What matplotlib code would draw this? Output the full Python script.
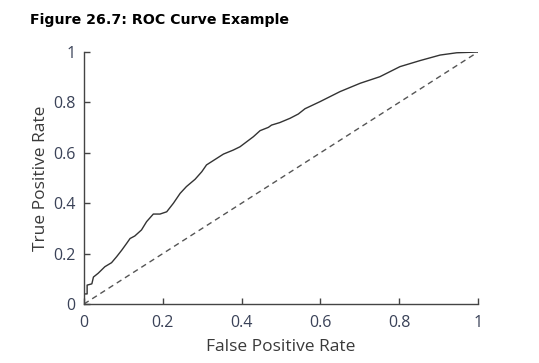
import matplotlib
matplotlib.use('Agg')
import matplotlib.pyplot as plt

# ROC curve points
fpr = [0.0, 0.0, 0.008, 0.008, 0.02, 0.024, 0.036, 0.053, 0.07, 0.083, 0.096,
       0.108, 0.117, 0.129, 0.146, 0.159, 0.176, 0.193, 0.21, 0.227, 0.244,
       0.26, 0.282, 0.299, 0.311, 0.337, 0.354, 0.379, 0.396, 0.413, 0.43,
       0.447, 0.468, 0.476, 0.497, 0.523, 0.544, 0.561, 0.599, 0.65, 0.701,
       0.751, 0.802, 0.853, 0.904, 0.946, 1.0]
tpr = [0.0, 0.04, 0.04, 0.075, 0.08, 0.107, 0.122, 0.148, 0.164, 0.188, 0.214,
       0.24, 0.26, 0.27, 0.294, 0.327, 0.357, 0.357, 0.366, 0.4, 0.439,
       0.466, 0.495, 0.525, 0.552, 0.578, 0.595, 0.611, 0.624, 0.644, 0.664,
       0.688, 0.701, 0.71, 0.72, 0.737, 0.754, 0.775, 0.803, 0.843, 0.876,
       0.902, 0.942, 0.966, 0.988, 0.997, 1.0]
chance = [0, 1]
ticks = [0, 0.2, 0.4, 0.6, 0.8, 1]
tick_labels = ['0', '0.2', '0.4', '0.6', '0.8', '1']

fig = plt.figure(figsize=(5.39, 3.63), dpi=100)
ax = fig.add_axes([0.1558, 0.1625, 0.731, 0.6942])

ax.plot(fpr, tpr, color='#333333', linewidth=1.0)
ax.plot(chance, chance, color='#555555', linewidth=1.0, linestyle=(0, (4, 3)))

ax.set_xlim(0, 1)
ax.set_ylim(0, 1)
ax.set_xticks(ticks)
ax.set_yticks(ticks)
ax.set_xticklabels(tick_labels)
ax.set_yticklabels(tick_labels)

for s in ['top', 'right']:
    ax.spines[s].set_visible(False)
for s in ['left', 'bottom']:
    ax.spines[s].set_color('#444444')
    ax.spines[s].set_linewidth(1.0)

ax.tick_params(direction='in', length=4, width=1, color='#444444',
               labelsize=11.5, labelcolor='#3a4258')
ax.tick_params(axis='x', pad=8)
ax.tick_params(axis='y', pad=6)
for lab in ax.get_xticklabels() + ax.get_yticklabels():
    lab.set_family('Open Sans')

ax.set_xlabel('False Positive Rate', family='Open Sans', fontsize=12.5,
              color='#3a3a3a', labelpad=6)
ax.set_ylabel('True Positive Rate', family='Open Sans', fontsize=12.5,
              color='#3a3a3a', labelpad=3)

fig.text(0.055, 0.945, 'Figure 26.7: ROC Curve Example', fontsize=10.2,
         fontweight='bold', color='black', va='center', ha='left')

fig.savefig('out.png', dpi=100)
